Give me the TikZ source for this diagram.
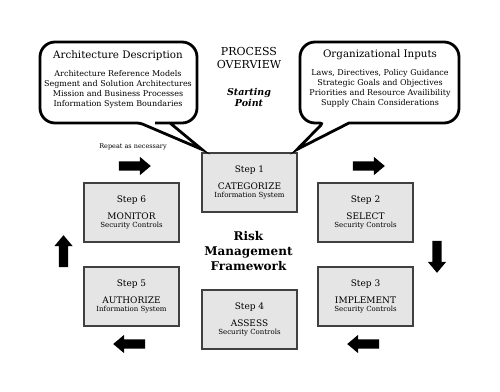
\documentclass[tikz,border=0pt]{standalone}
\usepackage{fontspec}
\setmainfont{DejaVu Serif}
\usetikzlibrary{shapes.arrows, positioning, calc}

\newcommand{\rmfstep}[3]{{\fontsize{9}{8}\selectfont #1}\\[8pt]{\fontsize{9}{8}\selectfont #2}\\{\fontsize{7}{8}\selectfont #3}}

\begin{document}
\begin{tikzpicture}[
            x=1pt, y=-1pt,
            stepbox/.style={rectangle, draw=black!75, fill=black!10, line width=1.2pt,
                            minimum width=95, minimum height=59, align=center, inner sep=0pt,
                            font=\fontsize{7}{8}\selectfont},
            flow/.style={single arrow, fill=black, inner sep=4.5pt,
                         minimum height=32, single arrow head extend=4.5pt,
                         single arrow tip angle=80},
            bubble/.style={line width=2.8pt, line join=miter, fill=white},
            calltitle/.style={font=\fontsize{10.3}{12}\selectfont},
            callbody/.style={font=\fontsize{8}{10}\selectfont, align=center}
        ]
            \useasboundingbox (0,0) rectangle (500,391);

            % the six steps
            \node[stepbox] (s1) at (249.5,182.5) {\rmfstep{Step 1}{CATEGORIZE}{Information System}};
            \node[stepbox] (s2) at (365.5,212.5) {\rmfstep{Step 2}{SELECT}{Security Controls}};
            \node[stepbox] (s3) at (365.5,296.5) {\rmfstep{Step 3}{IMPLEMENT}{Security Controls}};
            \node[stepbox] (s4) at (249.5,319.5) {\rmfstep{Step 4}{ASSESS}{Security Controls}};
            \node[stepbox] (s5) at (131.5,296.5) {\rmfstep{Step 5}{AUTHORIZE}{Information System}};
            \node[stepbox] (s6) at (131.5,212.5) {\rmfstep{Step 6}{MONITOR}{Security Controls}};

            % block arrows round the cycle
            \node[flow] (f12) at (366,166) {};
            \node[flow, shape border rotate=270] (f23) at (437,254) {};
            \node[flow, shape border rotate=180] (f34) at (366,344) {};
            \node[flow, shape border rotate=180] (f45) at (132,344) {};
            \node[flow, shape border rotate=90] (f56) at (63.5,254) {};
            \node[flow] (f61) at (132,166) {};

            \node[font=\fontsize{6.5}{8}\selectfont] (repeat) at (133,147) {Repeat as necessary};

            % callouts
            \coordinate (tipl) at ($(s1.north west)+(0.5,-3)$);
            \coordinate (tipr) at ($(s1.north east)+(-0.5,-3)$);
            \draw[bubble] (155,123) [rounded corners=15pt] -- (197,123) -- (197,42) -- (40,42)
                -- (40,123) [rounded corners=3pt] -- (140,123) [sharp corners] -- (tipl) -- (170,123) -- cycle;
            \draw[bubble] (400,123) [rounded corners=15pt] -- (459,123) -- (459,42) -- (300,42)
                -- (300,123) [rounded corners=3pt] -- (323,123) [sharp corners] -- (tipr) -- (349,123) -- cycle;

            \node[calltitle] (archtitle) at (118,56) {Architecture Description};
            \node[callbody] (archbody) at (118,89) {Architecture Reference Models\\
                Segment and Solution Architectures\\Mission and Business Processes\\
                Information System Boundaries};
            \node[calltitle] (orgtitle) at (380,55) {Organizational Inputs};
            \node[callbody] (orgbody) at (380,88.5) {Laws, Directives, Policy Guidance\\
                Strategic Goals and Objectives\\Priorities and Resource Availibility\\
                Supply Chain Considerations};

            % titles
            \node[font=\fontsize{11}{13}\selectfont, align=center] (overview) at (249,57.5) {PROCESS\\OVERVIEW};
            \node[font=\fontsize{9.5}{11}\selectfont\bfseries\itshape, align=center] (start) at (249,97.5) {Starting\\Point};
            \node[font=\fontsize{12}{15}\selectfont\bfseries, align=center] (rmf) at (248.5,251) {Risk\\Management\\Framework};
        \end{tikzpicture}
\end{document}
